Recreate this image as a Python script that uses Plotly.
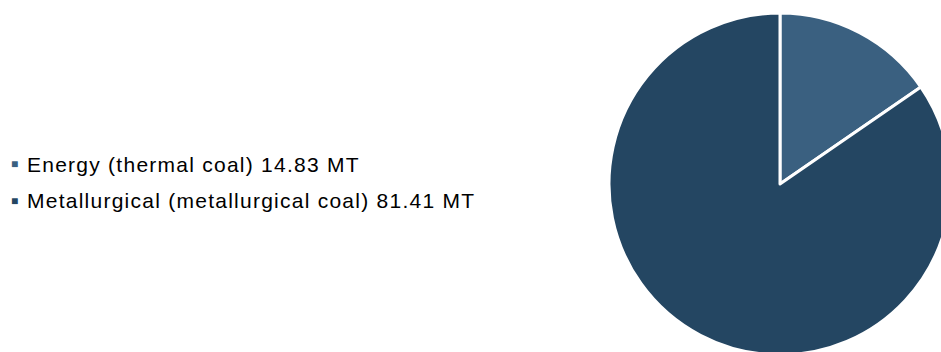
import plotly.graph_objects as go

categories = ["Energy (thermal coal)", "Metallurgical (metallurgical coal)"]
values = [14.83, 81.41]
unit = "MT"
colors = ["#3A6080", "#244662"]

W, H = 960, 360
MT, MB = 13, 5

fig = go.Figure()
fig.add_trace(go.Pie(
    labels=categories,
    values=values,
    sort=False,
    direction="clockwise",
    rotation=0,
    marker=dict(colors=colors, line=dict(color="#FFFFFF", width=3)),
    textinfo="none",
    showlegend=False,
    domain=dict(x=[609 / W, 951 / W], y=[0, 1]),
))

def py(px):
    return 1 - (px - MT) / (H - MT - MB)

annotations = []
for i, (cat, val, col) in enumerate(zip(categories, values, colors)):
    yc = 164 + 36 * i
    annotations.append(dict(
        x=14.5 / W, y=py(yc + 0.5), xref="paper", yref="paper",
        xanchor="center", yanchor="middle", showarrow=False,
        text=f"<span style='color:{col}'>■</span>",
        font=dict(family="Liberation Sans, Arial, sans-serif", size=12, color=col),
    ))
    annotations.append(dict(
        x=25 / W, y=py(yc), xref="paper", yref="paper",
        xanchor="left", yanchor="middle", showarrow=False,
        text=f"<span style='letter-spacing:1.25px'>{cat} {val:.2f} {unit}</span>",
        font=dict(family="Liberation Sans, Arial, sans-serif", size=21, color="#000000"),
    ))

fig.update_layout(
    width=W, height=H,
    margin=dict(l=0, r=0, t=MT, b=MB, pad=0),
    paper_bgcolor="#FFFFFF",
    plot_bgcolor="#FFFFFF",
    annotations=annotations,
)

fig.write_html(
    "out.html",
    post_script="document.documentElement.style.overflow='hidden';document.body.style.overflow='hidden';document.body.style.margin='0';",
)
